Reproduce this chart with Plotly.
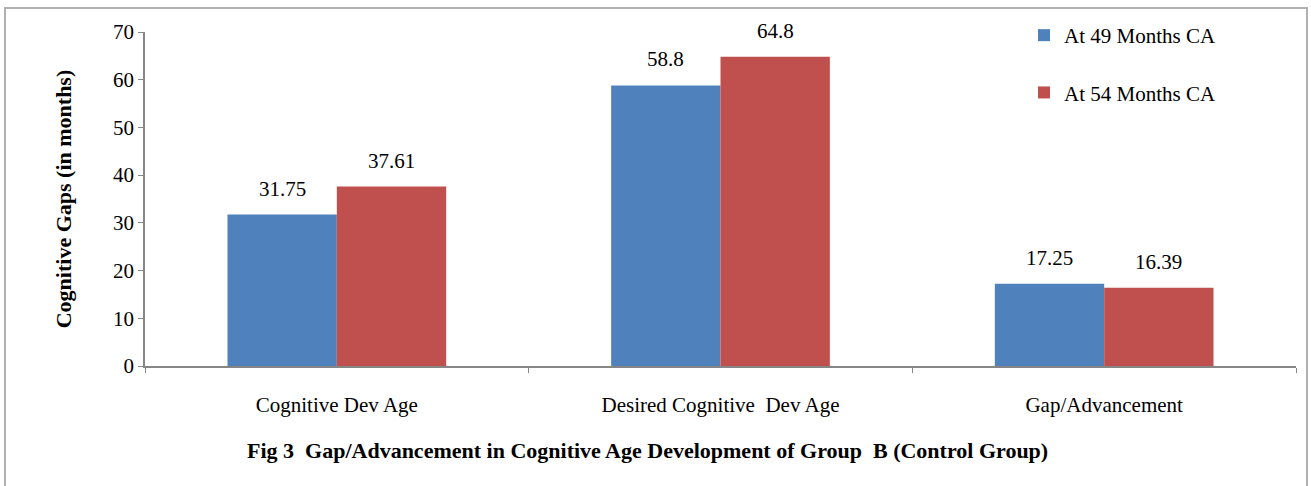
import plotly.graph_objects as go

categories = ["Cognitive Dev Age", "Desired Cognitive  Dev Age", "Gap/Advancement"]
series_names = ["At 49 Months CA", "At 54 Months CA"]
values_49 = [31.75, 58.8, 17.25]
values_54 = [37.61, 64.8, 16.39]
label_49 = ["31.75", "58.8", "17.25"]
label_54 = ["37.61", "64.8", "16.39"]
y_ticks = [0, 10, 20, 30, 40, 50, 60, 70]

colors = ["#4F81BD", "#C0504D"]
FONT = "Liberation Serif"
FS = 21

W, H = 1311, 486
ml, mr, mt, mb = 145, 15, 32, 120
pw = W - ml - mr
ph = H - mt - mb
bargap = 0.43

fig = go.Figure()
for name, vals, col, grp in [(series_names[0], values_49, colors[0], "a"),
                             (series_names[1], values_54, colors[1], "b")]:
    fig.add_trace(go.Bar(x=categories, y=vals, name=name, marker_color=col,
                         marker_line_width=0, legendgroup=grp))

# data labels
cat_px = pw / len(categories)
half = (1 - bargap) * cat_px / 4
for vals, labs, sh in [(values_49, label_49, -half), (values_54, label_54, half)]:
    for c, v, t in zip(categories, vals, labs):
        fig.add_annotation(x=c, y=v, text=t, showarrow=False, xshift=sh, yshift=26,
                           yanchor="middle", font=dict(family=FONT, size=FS, color="black"))

# figure caption
fig.add_annotation(xref="paper", yref="paper", x=(647 - ml) / pw, y=(366 - 450) / ph,
                   text="<b>Fig 3  Gap/Advancement in Cognitive Age Development of Group  B (Control Group)</b>",
                   showarrow=False, xanchor="center", yanchor="middle",
                   font=dict(family=FONT, size=22, color="black"))

# outer border
fig.add_shape(type="rect", xref="paper", yref="paper",
              x0=(5 - ml) / pw, x1=(1307 - ml) / pw,
              y0=(366 - 495) / ph, y1=(366 - 8) / ph,
              line=dict(color="#B0B0B0", width=2), fillcolor="rgba(0,0,0,0)", layer="below")

fig.update_layout(
    width=W, height=H,
    margin=dict(l=ml, r=mr, t=mt, b=mb, autoexpand=False),
    paper_bgcolor="white", plot_bgcolor="white",
    barmode="group", bargap=bargap, bargroupgap=0,
    font=dict(family=FONT, size=FS, color="black"),
    legend=dict(x=(1024 - ml) / pw, y=(366 - 15) / ph, xanchor="left", yanchor="top",
                traceorder="grouped", tracegroupgap=27, itemwidth=30,
                font=dict(family=FONT, size=FS, color="black"),
                bgcolor="rgba(0,0,0,0)"),
    showlegend=True,
)
fig.update_yaxes(range=[0, 70], tickvals=y_ticks, showgrid=False, zeroline=False,
                 automargin=False,
                 showline=True, linecolor="#868686", linewidth=1.5,
                 ticks="outside", ticklen=5, tickcolor="#868686",
                 tickfont=dict(family=FONT, size=FS, color="black"),
                 title=dict(text="<b>Cognitive Gaps (in months)</b>", standoff=35,
                            font=dict(family=FONT, size=22, color="black")))
fig.update_xaxes(showgrid=False, showline=True, linecolor="#868686", linewidth=1.5,
                 automargin=False,
                 ticks="outside", tickson="boundaries", ticklen=5, tickcolor="#868686",
                 ticklabelstandoff=19,
                 tickfont=dict(family=FONT, size=FS, color="black"))

fig.write_html("out.html", config={"displayModeBar": False},
               post_script="document.body.style.margin='0';")
